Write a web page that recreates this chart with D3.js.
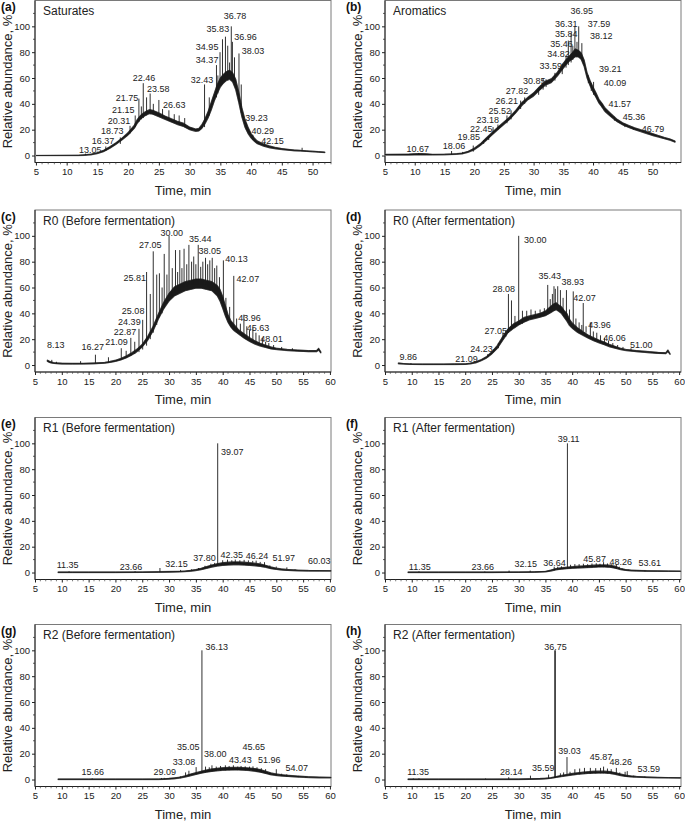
<!DOCTYPE html>
<html><head><meta charset="utf-8">
<script src="https://cdn.jsdelivr.net/npm/d3@7"></script>
<style>
body{margin:0;background:#fff}
svg{display:block;font-family:"Liberation Sans",Arial,Helvetica,sans-serif}
</style>
</head><body>
<svg id="chart" width="685" height="821"></svg>
<script>
// ---------------- DATA ----------------
const panelIds = ['(a)','(b)','(c)','(d)','(e)','(f)','(g)','(h)'];
const panelTitles = ['Saturates','Aromatics','R0 (Before fermentation)','R0 (After fermentation)',
  'R1 (Before fermentation)','R1 (After fermentation)','R2 (Before fermentation)','R2 (After fermentation)'];
const xTicksShort = [5,10,15,20,25,30,35,40,45,50];
const xTicksLong = [5,10,15,20,25,30,35,40,45,50,55,60];
const yTicks = [0,20,40,60,80,100];
const xDomainMin = [4.85,5,5,5,5,5,5,5];
const xDomainMax = [53,54.8,60.2,60.35,60.2,60.35,60.2,60.35];

// traces: [time, lower edge, upper edge] of the noisy chromatogram band
const aTrace = [[5,0,0],[12,0,0.3],[13,0.2,0.6],[14,0.6,1.1],[15,1.5,2.2],[16,3,4],[17,5.5,6.8],[18,8.5,9.8],[19,12,13.5],[20,15.8,17.8],[21,21,23.5],[21.5,25,28],[22,28,31],[22.5,30,33],[23,31.5,34.5],[23.5,32.5,35.5],[24,32,35],[24.5,31,34],[25,30,33],[26,28,30.5],[27,26,28.5],[28,24,26.5],[29,22.5,25],[30,20,22],[30.5,19.3,21.3],[31,18.7,20.5],[31.5,19,21],[32,21,24],[32.5,24.5,28.5],[33,29,34],[33.5,35,41],[34,42,48],[34.5,48,55],[35,53,60],[35.5,56,63],[36,58,65],[36.5,59,66],[37,57,64],[37.5,51,59],[38,41,49],[38.5,30,37],[39,22,28],[39.5,17,22],[40,13.5,17],[40.5,11,13.8],[41,9.2,11.3],[42,7.3,9],[43,6,7.4],[44,5.2,6.2],[45,4.6,5.4],[46,4.1,4.8],[47,3.7,4.3],[48,3.5,4],[49,3.2,3.6],[50,2.9,3.3],[51,2.6,3],[52,2.3,2.7]];
const bTrace = [[5,0.4,0.9],[9,0.4,1.1],[10,0.5,1.4],[11,0.5,1.5],[12,0.5,1.3],[13,0.5,0.9],[15,0.6,1],[17,0.9,1.4],[18,1.3,1.9],[19,2.5,3.3],[20,4.4,5.6],[21,7.5,9],[22,11.5,13.5],[23,15.8,17.8],[24,20,22],[25,24,26],[26,28,30],[27,33,35],[28,38.5,41],[29,43,45],[30,46,48.5],[31,50.5,53.5],[32,54.5,57.5],[33,56.5,59.5],[34,61.5,64.5],[35,67.5,71.5],[35.5,70.5,74.5],[36,73,77],[36.5,74.5,79.5],[37,76.5,82.5],[37.5,76.5,81.5],[38,74.5,79.5],[38.5,69,74],[39,60,64],[39.5,54,58],[40,49,53],[40.5,45,48.5],[41,40.5,43.5],[41.5,37.5,40.5],[42,34,37],[43,30,32.5],[44,26.3,28.3],[45,23.7,25.3],[46,21.7,23.3],[47,20,21.5],[48,18.5,20],[49,17,18.5],[50,15.5,17],[51,14.3,15.5],[52,13,14],[53,11.8,12.7],[53.8,10.3,11.2]];
const cTrace = [[7.3,2.8,3.8],[7.8,1.8,2.7],[8.5,1.2,1.8],[10,0.8,1.4],[12,0.7,1.3],[14,0.8,1.3],[16,1,1.6],[18,1.4,2],[19,2,2.8],[20,2.8,3.7],[21,3.9,5.1],[22,5.5,7],[23,7.6,9.4],[24,10.2,12.3],[25,14,16],[26,19,22],[27,26.2,29.8],[28,35.5,39.5],[29,43.5,48.5],[30,49.5,55.5],[31,53.5,60.5],[32,55.5,62.5],[33,57.5,64.5],[34,58.5,65.5],[35,59.5,66.5],[36,59.5,66.5],[37,58.5,65.5],[38,57.5,64.5],[39,53.5,61.5],[39.5,49.5,58.5],[40,44,53],[40.5,38,46],[41,33,39],[41.5,29.5,34.5],[42,27,32],[43,23.8,27.2],[44,20.8,24.2],[45,18.3,21.2],[46,16.2,18.8],[47,14.7,16.8],[48,13.6,15.4],[49,12.5,14],[50,12,13],[52,11.2,12.1],[54,10.7,11.6],[56,10.3,11.2],[57.5,10.3,11.2],[57.9,11.5,13],[58.3,9.3,10.2]];
const dTrace = [[7.5,1,1.6],[8.5,0.7,1.1],[10,0.5,0.8],[12,0.4,0.8],[14,0.4,0.8],[16,0.4,0.8],[18,0.4,0.9],[20,0.5,0.9],[21,0.9,1.4],[22,1.7,2.6],[23,3.3,4.2],[24,5.4,6.6],[25,8.6,10.4],[26,12.8,15.2],[27,19,22],[27.5,22,25],[28,25,28],[29,28.2,31.8],[30,31,34],[31,33.2,36.8],[32,35,38],[33,36,39],[34,37,40],[35,38.2,41.8],[36,40.5,45.5],[36.5,41.8,47.2],[37,42.8,48.2],[37.5,41.5,46.5],[38,39.8,45.2],[38.5,36.8,42.2],[39,34,40],[39.5,30.5,35.5],[40,28.4,32.6],[41,25.2,28.8],[42,23,26],[43,20.8,23.2],[44,18.8,21.2],[45,17.2,19.3],[46,15.7,17.8],[47,14.1,15.9],[48,13,14.5],[49,12,13],[50,11.2,12.1],[52,10.3,11.2],[54,9.6,10.5],[56,9,9.8],[57.5,8.8,9.5],[57.9,10.3,11.7],[58.3,8.2,8.8]];
const eTrace = [[9.3,0,0.4],[12,0,0.4],[15,0,0.4],[20,0,0.4],[25,0.1,0.5],[28,0.2,0.6],[30,0.3,0.8],[32,0.5,0.9],[33,0.7,1.2],[34,1,1.7],[35,1.5,2.3],[36,2.2,3.3],[37,3.2,4.6],[38,4.2,5.8],[39,5,6.8],[40,5.5,7.6],[41,5.8,8],[42,6,8.2],[43,6,8.2],[44,5.8,8],[45,5.5,7.6],[46,5.2,7.2],[47,4.7,6.6],[48,4,5.6],[49,3,4.3],[50,2.4,3.4],[51,1.9,2.8],[52,1.6,2.4],[54,1.3,1.9],[56,1.1,1.6],[58,1.1,1.5],[60.2,1.1,1.4]];
const fTrace = [[9.3,0,0.4],[15,0,0.4],[20,0,0.4],[25,0,0.4],[30,0.1,0.5],[33,0.2,0.6],[35,0.5,0.9],[36,1.1,1.9],[37,2.1,3.1],[38,2.6,3.7],[39,3,4.1],[40,3.3,4.5],[41,3.5,4.9],[42,3.7,5.1],[43,3.9,5.4],[44,4.1,5.7],[45,4.3,5.9],[46,4.3,5.9],[47,4.1,5.7],[48,3.4,4.9],[48.5,2.9,4.1],[49,2.3,3.2],[50,1.6,2.3],[51,1.3,1.9],[52,1.1,1.7],[54,1,1.4],[56,0.9,1.3],[58,0.9,1.2],[60.3,0.9,1.1]];
const gTrace = [[9.3,0,0.4],[15,0,0.4],[20,0,0.4],[25,0,0.4],[28,0,0.5],[29,0.1,0.6],[30,0.3,0.9],[31,0.6,1.3],[32,1.1,1.8],[33,1.9,2.9],[34,2.9,4.2],[35,3.9,5.3],[36,4.9,6.4],[37,5.7,7.4],[38,6.3,8.2],[39,6.8,8.7],[40,7.1,9.1],[41,7.3,9.3],[42,7.4,9.4],[43,7.4,9.4],[44,7.2,9.2],[45,6.9,8.9],[46,6.4,8.5],[47,5.7,7.7],[48,4.7,6.5],[49,3.7,5.1],[50,3.1,4.3],[51,2.7,3.7],[52,2.4,3.3],[54,1.9,2.7],[56,1.5,2.2],[58,1.3,1.9],[60.2,1.3,1.7]];
const hTrace = [[9.3,0,0.4],[15,0,0.4],[20,0,0.4],[25,0,0.4],[30,0,0.5],[32,0.1,0.6],[34,0.3,0.8],[35,0.5,1],[36,0.9,1.4],[37,1.6,2.3],[38,2.3,3.2],[39,2.9,3.9],[40,3.5,4.7],[41,4,5.2],[42,4.4,5.7],[43,4.7,6.1],[44,4.9,6.4],[45,5,6.5],[46,5,6.5],[47,4.7,6.2],[48,4,5.4],[49,3.1,4.3],[50,2.4,3.4],[51,2,2.8],[52,1.8,2.4],[54,1.5,2],[56,1.3,1.7],[58,1.2,1.5],[60.3,1.1,1.4]];

// peaks: [time, base abundance, apex abundance]
const aPeaks = [[13.05,0.4,1.5],[16.37,3.5,7],[18.73,9,14],[20.31,17,23],[21.15,22,31],[21.75,26,44],[22.15,28,38],[22.46,29,56],[23.0,31,45],[23.58,32,48],[24.1,32,40],[25.0,31,43],[25.6,30,36],[26.63,27,35],[27.5,26,32],[28.3,24,31],[29.2,22,29],[32.43,22,55],[33.2,31,45],[34.37,45,70],[34.6,48,62],[34.95,55,80],[35.35,58,90],[35.83,60,92],[36.2,62,85],[36.5,62,72],[36.78,62,100],[36.96,62,88],[37.3,58,76],[38.03,42,79],[38.4,33,55],[39.23,20,25],[40.29,12,16],[42.15,7,10],[48.3,3.8,6]];
const bPeaks = [[10.67,1,2],[16.2,0.8,3.5],[18.06,1.3,2.8],[19.85,3,7.7],[21.6,9,12],[22.45,12,14.5],[23.18,17,22],[24.0,20,24],[25.52,25,31],[26.21,28,35],[27.82,36,42.5],[28.5,40,45],[30.85,47,52],[31.6,51,60],[32.1,53,59],[33.59,58,64],[34.82,63,71],[35.46,68,77],[35.84,70,89],[36.31,72,95],[36.6,74,85],[36.95,76,100],[37.3,76,88],[37.59,76,100],[38.12,74,87],[39.21,56,62],[39.7,50,56],[40.09,47,57],[41.57,37,40],[43.6,27,30],[45.36,22,24.5],[46.79,20,21.5]];
const cPeaks = [[8.13,1.5,4],[9,1.2,2.5],[13.5,0.8,3],[16.27,1.5,8],[18.7,2,6],[21.09,4,13],[22.0,5.5,11],[22.87,7,21],[23.6,8.5,18],[24.39,10,28],[25.08,12,35],[25.81,15,72],[26.5,20,55],[27.05,25,88],[27.7,31,70],[28.2,37,71],[28.7,40,60],[29.1,44,86],[29.6,48,70],[30.0,50,100],[30.6,54,75],[31.2,56,89],[31.6,58,72],[32.0,58,89],[32.4,60,75],[32.8,60,90],[33.3,61,78],[33.7,62,93],[34.2,62,80],[34.6,62,84],[35.0,62,78],[35.44,62,93],[35.9,62,76],[36.3,62,80],[36.8,62,83],[37.2,61,78],[37.6,60,81],[38.05,60,83],[38.5,58,75],[38.9,57,77],[39.4,54,68],[40.13,48,81],[40.6,42,52],[41.3,35,45],[42.07,30,69],[42.6,28,36],[43.3,26,32],[43.96,24,39],[44.5,22,30],[45.0,20,27],[45.63,19,29],[46.2,18,25],[46.8,16,23],[47.4,15,21],[48.01,14,18],[48.6,13.5,17],[49.5,13,15.5],[51,12,14],[53,11.5,13]];
const dPeaks = [[9.86,0.6,1.5],[21.09,1,2],[24.23,6,8.5],[25.3,10,12],[26.2,13,17],[27.05,20,25],[27.6,22,27],[28.08,25,55],[28.65,27,50],[29.3,29,38],[30.0,31,100],[30.7,32,42],[31.5,34,42],[32.3,36,43],[33.1,37,42],[34.0,38,43],[34.8,40,44],[35.43,41,62],[35.9,42,51],[36.3,44,55],[36.6,45,61],[36.85,46,59],[37.3,46,61],[37.8,44,58],[38.3,42,52],[38.93,38,58],[39.5,34,43],[40.2,31,57],[40.7,28,36],[41.3,27,33],[41.8,26,31],[42.07,26,48],[42.6,25,30],[43.4,22,33],[43.96,21,26],[44.6,20,25],[45.3,18,23],[46.06,17,21],[46.8,15.5,19],[47.6,14.5,17],[48.5,13.5,15.5],[49.5,12.5,14],[51.0,11.5,13]];
const ePeaks = [[11.35,0.3,0.9],[23.66,0.4,1],[28.3,0.5,3.5],[32.15,0.9,2],[34.2,1.6,2.5],[35.5,2.2,3.5],[36.7,3.8,5.2],[37.8,5,6.8],[38.5,5.8,7.5],[39.07,6.2,100],[40.0,7,9.5],[40.9,7.5,10],[41.7,7.8,9.5],[42.35,8,10],[43.2,8,9.5],[44.0,8,9.8],[44.8,7.8,9.4],[45.6,7.5,9],[46.24,7,9.2],[47.0,6.8,8.2],[47.8,5.8,8],[48.8,4.5,5.5],[50.0,3.6,4.6],[51.97,2.5,4],[53.5,2,2.5]];
const fPeaks = [[11.35,0.2,0.9],[23.66,0.2,0.8],[28.2,0.3,1.5],[32.15,0.4,1.5],[36.64,1.6,4.5],[37.3,2.3,4.5],[38.0,2.8,4.8],[39.11,3,100],[39.7,3.2,6],[40.5,3.5,6.5],[41.3,3.6,6.5],[42.1,3.8,6.8],[42.9,3.9,6.5],[43.7,4,7],[44.5,4.2,7.2],[45.2,4.2,6.8],[45.87,4.2,8],[46.6,4.2,7],[47.3,4,6.5],[48.26,3,6.5],[48.8,2.5,4.5],[49.4,2,3],[50.5,1.4,2.2],[53.61,0.9,1.5]];
const gPeaks = [[15.66,0.2,0.9],[28.6,0.4,1.2],[29.09,0.5,1.3],[32.1,1,2.5],[33.08,2,5.5],[33.7,2.5,6.8],[35.05,4,9.6],[36.13,5,100],[36.8,5.5,10],[37.5,6,9.5],[38.0,6.3,11],[38.8,6.6,10],[39.6,6.9,10.5],[40.5,7.1,11],[41.2,7.2,10.5],[42.0,7.3,11],[42.8,7.3,10],[43.43,7.3,10.5],[44.2,7.1,10.2],[45.0,6.8,10],[45.65,6.6,10.2],[46.4,6.1,9.5],[47.2,5.5,8.8],[48.0,4.6,8],[48.8,3.8,5.5],[50.0,3,8],[51.0,2.6,4.5],[51.96,2.3,4],[54.07,1.8,2.8],[55.5,1.5,2.2]];
const hPeaks = [[10.3,0.2,0.8],[11.35,0.2,0.9],[23.8,0.2,0.8],[28.14,0.3,1.8],[32.2,0.5,3],[35.59,0.8,3.8],[36.75,1.2,100],[36.85,1.2,100],[37.8,2,4.8],[38.4,2.5,5.5],[39.03,3,17.4],[39.6,3.3,6],[40.5,3.6,8],[41.4,4,8.5],[42.3,4.3,9],[43.4,4.6,9],[44.4,4.8,8.8],[45.3,4.9,9],[45.87,4.9,10],[46.6,4.8,8.5],[47.3,4.5,8],[48.26,3.8,9],[48.9,3.3,5.5],[49.9,2.5,6],[50.3,2.2,6.5],[51.5,1.8,3],[53.59,1.5,2.3]];

// peak labels: [text, time at label centre, abundance at label centre]
const aLabels = [['13.05',13.85,4.4],['16.37',15.9,11.6],['18.73',17.4,19.3],['20.31',18.5,27],['21.15',19.2,35.6],['21.75',19.8,44.3],['22.46',22.6,60],['23.58',24.9,51.3],['26.63',27.5,39.4],['32.43',32.0,58.5],['34.37',32.85,74],['34.95',32.85,84.3],['35.83',34.6,98],['36.78',37.4,108],['36.96',39.1,92],['38.03',40.3,81],['39.23',40.9,29],['40.29',41.9,19.3],['42.15',43.5,11.6]];
const bLabels = [['10.67',10.5,5.2],['18.06',16.6,7.2],['19.85',19.1,14.2],['22.45',21.2,20.8],['23.18',22.3,27.3],['25.52',24.3,34.3],['26.21',25.5,42],['27.82',27.2,49.7],['30.85',30.1,58],['33.59',32.9,69.6],['34.82',34.2,78.6],['35.46',34.7,86.3],['35.84',35.5,94],['36.31',35.5,102],['36.95',38.1,112],['37.59',41.0,102],['38.12',41.4,92.8],['39.21',42.9,67],['40.09',43.7,56],['41.57',44.5,40],['45.36',46.9,30],['46.79',50.1,21]];
const cLabels = [['8.13',8.85,15.5],['16.27',15.75,13.7],['21.09',20.2,18],['22.87',21.8,25.8],['24.39',22.6,33.5],['25.08',23.3,41.8],['25.81',23.6,67.5],['27.05',26.5,93.3],['30.00',30.5,102.3],['35.44',35.8,98],['38.05',37.6,88.4],['40.13',42.6,82],['42.07',44.7,66.5],['43.96',45,36.6],['45.63',46.6,28.9],['48.01',49.1,20]];
const dLabels = [['9.86',9.36,6.4],['21.09',20.25,4.6],['24.23',23.05,12.4],['27.05',25.7,26.5],['28.08',27.2,59.3],['30.00',33.1,96.6],['35.43',35.8,69],['38.93',40.1,64.4],['42.07',42.3,52.3],['43.96',45.1,31],['46.06',47.9,21.4],['51.00',52.9,15.5]];
const eLabels = [['11.35',11.1,5.7],['23.66',22.9,4.7],['32.15',31.4,6.5],['37.80',36.6,11],['39.07',41.8,93.5],['42.35',41.7,14],['46.24',46.4,13],['51.97',51.4,11],['60.03',58.0,9]];
const fLabels = [['11.35',11.5,4.7],['23.66',23.3,4.7],['32.15',31.3,6.5],['36.64',36.7,7.8],['39.11',39.35,103.4],['45.87',44.2,10.9],['48.26',49.1,8.5],['53.61',54.5,7.8]];
const gLabels = [['15.66',15.75,5.9],['29.09',29.2,5.9],['33.08',32.8,13.6],['35.05',33.6,25.6],['36.13',38.9,103],['38.00',38.6,19.5],['43.43',43.3,14.9],['45.65',45.8,25.1],['51.96',48.7,14.9],['54.07',53.8,9]];
const hLabels = [['11.35',11.2,5.9],['28.14',28.6,5.9],['35.59',34.6,9],['36.75',36.9,102.5],['39.03',39.5,22],['45.87',45.4,17.4],['48.26',49.1,13.6],['53.59',54.3,8.5]];

const traces = [aTrace,bTrace,cTrace,dTrace,eTrace,fTrace,gTrace,hTrace];
const peaks = [aPeaks,bPeaks,cPeaks,dPeaks,ePeaks,fPeaks,gPeaks,hPeaks];
const labels = [aLabels,bLabels,cLabels,dLabels,eLabels,fLabels,gLabels,hLabels];

// ---------------- LAYOUT ----------------
const colLeft = [35, 385];
const frameW = 296, frameH = 162;
const rowTop = [0.5, 210, 417.5, 624.5];
const yDomain = [-5.4, 120];

const svg = d3.select('#chart');

panelIds.forEach((pid, i) => {
  const col = i % 2, row = Math.floor(i / 2);
  const x0 = colLeft[col], x1 = x0 + frameW;
  const y0 = rowTop[row], y1 = y0 + frameH;
  const x = d3.scaleLinear().domain([xDomainMin[i], xDomainMax[i]]).range([x0, x1]);
  const y = d3.scaleLinear().domain(yDomain).range([y1, y0]);
  const g = svg.append('g');

  // frame
  g.append('rect').attr('x', x0).attr('y', y0).attr('width', frameW).attr('height', frameH)
    .attr('fill', 'none').attr('stroke', '#7a7a7a').attr('stroke-width', 1);

  // y axis
  const yAx = d3.axisLeft(y).tickValues(yTicks).tickSize(3).tickPadding(2).tickFormat(d3.format('d'));
  const ya = g.append('g').attr('transform', `translate(${x0},0)`).call(yAx);
  ya.select('.domain').attr('stroke', '#222').attr('d', `M0,${y1}V${y0}`);
  ya.selectAll('.tick line').attr('stroke', '#222');
  ya.selectAll('.tick text').attr('font-size', '9.5px').attr('fill', '#222').attr('font-family', null);
  const yMinor = d3.range(10, 120, 20);
  g.selectAll('.ymin').data(yMinor).enter().append('line')
    .attr('x1', x0 - 2).attr('x2', x0).attr('y1', d => y(d)).attr('y2', d => y(d))
    .attr('stroke', '#333').attr('stroke-width', 0.8);

  // x axis
  const xt = (i < 2) ? xTicksShort : xTicksLong;
  const xAx = d3.axisBottom(x).tickValues(xt).tickSize(3).tickPadding(3).tickFormat(d3.format('d'));
  const xa = g.append('g').attr('transform', `translate(0,${y1})`).call(xAx);
  xa.select('.domain').attr('stroke', '#222').attr('d', `M${x0},0H${x1}`);
  xa.selectAll('.tick line').attr('stroke', '#222');
  xa.selectAll('.tick text').attr('font-size', '9.5px').attr('fill', '#222').attr('font-family', null);
  const xMinor = d3.range(Math.ceil(xDomainMin[i]), Math.floor(xDomainMax[i]) + 1).filter(v => v % 5 !== 0);
  g.selectAll('.xmin').data(xMinor).enter().append('line')
    .attr('x1', d => x(d)).attr('x2', d => x(d)).attr('y1', y1).attr('y2', y1 + 1.8)
    .attr('stroke', '#444').attr('stroke-width', 0.7);

  // axis titles
  g.append('text').attr('x', (x0 + x1) / 2).attr('y', y1 + 32).attr('text-anchor', 'middle')
    .attr('font-size', '13px').attr('fill', '#222').text('Time, min');
  const ylx = col === 0 ? 12 : 362;
  g.append('text').attr('transform', `translate(${ylx},${(y0 + y1) / 2}) rotate(-90)`)
    .attr('text-anchor', 'middle').attr('font-size', '13px').attr('fill', '#222')
    .text('Relative abundance, %');

  // panel letter + title
  g.append('text').attr('x', col === 0 ? 1 : 346).attr('y', y0 + 10.5)
    .attr('font-size', '12px').attr('font-weight', 'bold').attr('fill', '#111').text(pid);
  g.append('text').attr('x', x0 + 8).attr('y', y0 + 14.5)
    .attr('font-size', '12px').attr('fill', '#222').text(panelTitles[i]);

  // chromatogram band
  const area = d3.area().x(d => x(d[0])).y0(d => y(d[1])).y1(d => y(d[2]));
  g.append('path').datum(traces[i]).attr('d', area)
    .attr('fill', 'none').attr('stroke', '#9a9a9a').attr('stroke-width', 1.3).attr('stroke-linejoin', 'round');
  g.append('path').datum(traces[i]).attr('d', area)
    .attr('fill', '#1a1a1a').attr('stroke', '#1a1a1a').attr('stroke-width', 0.7).attr('stroke-linejoin', 'round');

  // peaks
  g.selectAll('.pk').data(peaks[i]).enter().append('line')
    .attr('x1', d => x(d[0])).attr('x2', d => x(d[0]))
    .attr('y1', d => y(d[1])).attr('y2', d => y(d[2]))
    .attr('stroke', '#1a1a1a').attr('stroke-width', 0.9);

  // peak labels
  g.selectAll('.lb').data(labels[i]).enter().append('text')
    .attr('x', d => x(d[1])).attr('y', d => y(d[2]))
    .attr('text-anchor', 'middle').attr('dy', '0.35em')
    .attr('font-size', '9px').attr('fill', '#222').text(d => d[0]);
});
</script>
</body></html>
